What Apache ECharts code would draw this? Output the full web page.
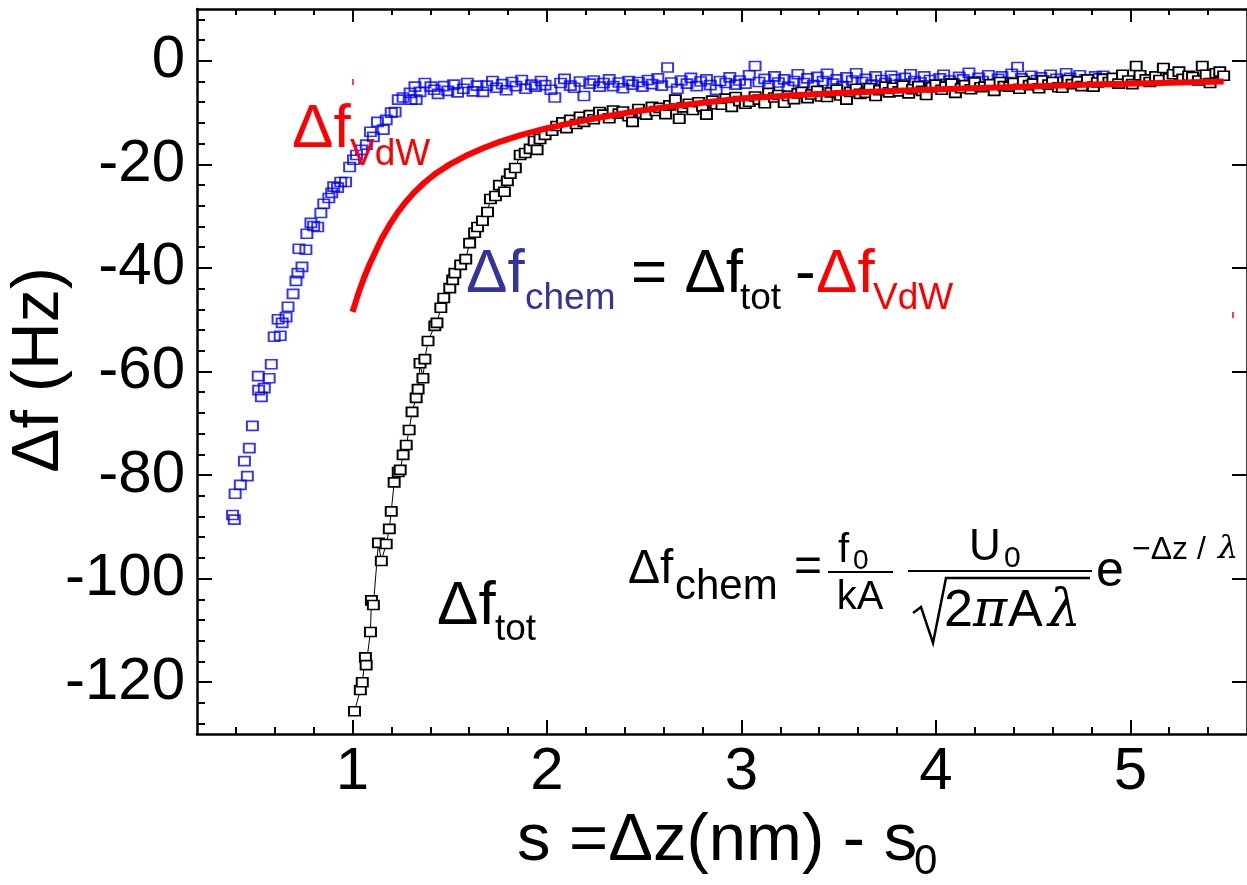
<!DOCTYPE html>
<html>
<head>
<meta charset="utf-8">
<script src="https://cdn.jsdelivr.net/npm/echarts@6.0.0/dist/echarts.min.js"></script>
<style>
  html, body { margin: 0; padding: 0; background: #fff; }
  #chart { width: 1247px; height: 885px; }
</style>
</head>
<body>
<div id="chart"></div>
<script>
// Δf_chem : chemical part of the frequency shift (blue squares)
const chemData = [
  [0.383,-87.7],[0.392,-88.6],[0.396,-83.6],[0.423,-81.9],[0.444,-77.3],[0.459,-80.2],[0.469,-74.8],
  [0.485,-70.5],[0.515,-60.9],[0.517,-63.6],[0.531,-64.9],[0.546,-63.2],[0.571,-61.3],[0.582,-58.6],
  [0.597,-53.3],[0.617,-49.9],[0.628,-53.1],[0.638,-50.6],[0.658,-49.5],[0.668,-47.5],[0.694,-45.0],
  [0.709,-42.5],[0.719,-41.0],[0.724,-36.3],[0.74,-39.8],[0.76,-36.5],[0.765,-33.4],[0.786,-31.3],
  [0.8,-31.9],[0.821,-32.1],[0.837,-29.4],[0.852,-27.6],[0.878,-26.5],[0.893,-25.5],[0.903,-24.3],
  [0.923,-24.5],[0.939,-23.4],[0.964,-23.4],[0.985,-20.5],[1.005,-19.1],[1.02,-18.2],[1.046,-17.2],
  [1.071,-16.2],[1.092,-13.7],[1.107,-14.7],[1.128,-11.8],[1.158,-13.3],[1.173,-11.4],[1.199,-10.0],
  [1.219,-9.9],[1.235,-7.5],[1.26,-7.1],[1.296,-6.2],[1.301,-7.5],[1.321,-5.0],[1.327,-7.5],
  [1.347,-6.0],[1.372,-4.3],[1.403,-5.0],
  [1.42,-5.6],[1.44,-6.4],[1.47,-4.9],[1.49,-5.8],[1.52,-4.6],[1.54,-6.1],[1.57,-5.4],[1.59,-4.3],
  [1.62,-5.9],[1.64,-4.8],[1.67,-6.0],[1.69,-4.8],[1.72,-3.9],[1.74,-5.2],[1.77,-4.5],[1.79,-5.7],
  [1.82,-4.1],[1.84,-4.9],[1.87,-3.7],[1.89,-5.4],[1.92,-4.6],[1.94,-5.0],[1.97,-3.9],[1.99,-4.7],
  [2.02,-5.6],[2.04,-7.1],[2.07,-4.3],[2.09,-3.5],[2.12,-4.8],[2.14,-5.2],[2.17,-4.0],[2.19,-6.8],
  [2.22,-4.4],[2.24,-3.8],[2.27,-5.0],[2.29,-4.3],[2.32,-3.6],[2.34,-4.9],[2.37,-4.2],[2.39,-5.3],
  [2.42,-3.9],[2.44,-4.6],[2.47,-4.1],[2.49,-5.0],[2.52,-3.7],[2.54,-4.5],[2.57,-3.4],[2.59,-4.8],
  [2.62,-1.3],[2.64,-4.2],[2.67,-5.4],[2.69,-3.8],[2.72,-4.4],[2.74,-3.3],[2.77,-4.9],[2.79,-4.0],
  [2.82,-3.6],[2.84,-4.7],[2.87,-5.6],[2.89,-3.9],[2.92,-4.3],[2.94,-3.2],[2.97,-4.6],[2.99,-3.8],
  [3.02,-4.4],[3.04,-2.8],[3.07,-1.0],[3.09,-4.1],[3.12,-3.5],[3.14,-4.8],[3.17,-3.0],[3.19,-4.2],
  [3.22,-3.6],[3.24,-5.0],[3.27,-3.9],[3.29,-2.6],[3.32,-4.3],[3.34,-3.4],[3.37,-4.7],[3.39,-3.1],
  [3.42,-3.9],[3.44,-2.5],[3.47,-4.4],[3.49,-3.6],[3.52,-4.9],[3.54,-3.2],[3.57,-3.8],[3.59,-2.4],
  [3.62,-4.1],[3.64,-3.5],[3.67,-4.6],[3.69,-3.0],[3.72,-3.7],[3.74,-4.3],[3.77,-2.9],[3.79,-3.6],
  [3.82,-4.5],[3.84,-3.3],[3.87,-2.6],[3.89,-3.9],[3.92,-4.2],[3.94,-3.0],[3.97,-3.7],[3.99,-4.9],
  [4.02,-3.4],[4.04,-2.7],[4.07,-3.8],[4.09,-4.4],[4.12,-3.1],[4.14,-3.6],[4.17,-2.3],[4.19,-4.0],
  [4.22,-3.3],[4.24,-3.9],[4.27,-2.8],[4.29,-4.6],[4.32,-3.5],[4.34,-3.0],[4.37,-4.1],[4.39,-2.5],
  [4.42,-1.2],[4.44,-3.4],[4.47,-4.3],[4.49,-2.9],[4.52,-3.7],[4.54,-3.2],[4.57,-4.2],[4.59,-2.7],
  [4.62,-3.5],[4.64,-4.0],[4.67,-2.4],[4.69,-3.3],[4.72,-3.9],[4.74,-2.8],[4.77,-3.6],[4.79,-4.3],
  [4.82,-3.0],[4.84,-3.4],[4.86,-2.9]
];

// Δf_tot : measured total frequency shift (black squares joined by a thin line)
const totData = [
  [1.01,-125.6],[1.04,-121.5],[1.05,-120.0],[1.066,-115.2],[1.07,-116.7],[1.092,-110.3],[1.097,-104.2],
  [1.107,-105.1],[1.133,-93.1],[1.148,-96.6],[1.173,-93.3],[1.189,-90.4],[1.199,-87.0],[1.214,-81.4],
  [1.235,-79.4],[1.245,-79.0],[1.26,-76.1],[1.276,-74.2],[1.291,-71.3],[1.306,-67.8],[1.327,-65.1],
  [1.337,-63.4],[1.347,-58.4],[1.362,-61.3],[1.372,-57.6],[1.388,-54.1],[1.423,-51.2],[1.434,-50.6],
  [1.454,-47.7],[1.469,-45.8],[1.5,-43.9],[1.515,-42.3],[1.526,-41.0],[1.556,-39.4],[1.582,-38.3],
  [1.602,-35.2],[1.628,-33.2],[1.643,-32.1],[1.668,-30.9],[1.694,-29.2],[1.709,-26.7],[1.735,-26.1],
  [1.755,-24.0],[1.781,-25.3],[1.796,-23.2],[1.811,-21.8],[1.837,-20.7],[1.862,-18.2],[1.888,-17.8],
  [1.913,-17.0],[1.934,-15.5],[1.949,-17.2],[1.964,-15.1],[1.99,-14.3],[2.026,-13.5],
  [2.05,-12.6],[2.08,-11.9],[2.1,-13.0],[2.12,-11.4],[2.15,-12.2],[2.17,-10.8],[2.19,-11.8],[2.22,-10.5],
  [2.24,-11.3],[2.27,-9.9],[2.29,-10.4],[2.32,-11.1],[2.34,-9.6],[2.37,-10.2],[2.39,-9.8],[2.42,-10.7],
  [2.44,-11.8],[2.47,-9.3],[2.49,-10.1],[2.51,-10.4],[2.54,-8.9],[2.56,-9.7],[2.58,-9.1],[2.61,-10.3],
  [2.63,-8.6],[2.66,-7.5],[2.68,-11.2],[2.7,-9.0],[2.73,-8.3],[2.75,-9.5],[2.78,-8.0],[2.8,-8.8],
  [2.82,-10.4],[2.85,-7.7],[2.87,-8.4],[2.9,-8.5],[2.92,-7.3],[2.95,-8.9],[2.97,-7.0],[2.99,-7.8],
  [3.02,-8.3],[3.04,-7.9],[3.07,-6.9],[3.09,-7.5],[3.12,-8.2],[3.14,-6.2],[3.17,-7.1],[3.19,-6.6],
  [3.22,-8.1],[3.24,-6.8],[3.27,-7.4],[3.29,-6.3],[3.31,-6.0],[3.34,-7.2],[3.36,-6.5],[3.39,-5.8],
  [3.41,-6.9],[3.44,-7.0],[3.46,-6.1],[3.49,-5.6],[3.51,-6.7],[3.54,-7.5],[3.56,-6.0],[3.59,-5.4],
  [3.61,-6.4],[3.64,-6.2],[3.66,-5.3],[3.69,-6.8],[3.71,-5.7],[3.74,-5.0],[3.76,-6.1],[3.78,-5.2],
  [3.81,-5.9],[3.83,-4.8],[3.86,-6.3],[3.88,-5.5],[3.91,-4.9],[3.93,-5.8],[3.95,-6.6],[3.98,-5.1],
  [4.0,-4.6],[4.03,-5.6],[4.05,-5.0],[4.08,-4.4],[4.1,-6.2],[4.13,-5.3],[4.15,-4.7],[4.18,-5.5],
  [4.2,-4.2],[4.23,-5.1],[4.25,-5.0],[4.28,-4.5],[4.3,-5.8],[4.33,-4.1],[4.35,-4.9],[4.38,-5.0],
  [4.4,-4.3],[4.43,-5.4],[4.45,-3.9],[4.48,-4.7],[4.5,-4.4],[4.53,-5.3],[4.55,-3.8],[4.58,-4.6],
  [4.6,-4.1],[4.63,-5.1],[4.65,-5.2],[4.68,-3.7],[4.7,-4.5],[4.73,-4.0],[4.75,-4.9],[4.78,-3.6],
  [4.81,-5.0],[4.83,-4.2],[4.86,-3.5],[4.89,-4.1],[4.91,-3.3],[4.94,-4.4],[4.96,-2.7],[4.99,-3.8],
  [5.01,-4.5],[5.03,-1.0],[5.05,-2.8],[5.08,-3.6],[5.1,-4.1],[5.13,-3.0],[5.15,-3.7],[5.17,-1.4],
  [5.2,-3.4],[5.22,-2.6],[5.25,-2.1],[5.27,-3.5],[5.3,-2.9],[5.32,-3.1],[5.35,-3.8],[5.37,-1.0],
  [5.39,-2.7],[5.41,-4.3],[5.44,-2.4],[5.46,-2.1],[5.48,-2.9]
];

// Δf_VdW : van der Waals background fit (thick red curve)
const vdwFit = [
  [1.00,-48.5],[1.03,-44.9],[1.06,-41.8],[1.09,-39.1],[1.12,-36.7],[1.15,-34.3],[1.19,-31.7],
  [1.23,-29.4],[1.27,-27.4],[1.32,-25.3],[1.37,-23.5],[1.43,-21.7],[1.50,-20.0],[1.58,-18.4],
  [1.67,-16.9],[1.76,-15.6],[1.86,-14.4],[1.97,-13.3],[2.10,-12.2],[2.25,-11.1],[2.42,-10.0],
  [2.60,-9.0],[2.80,-8.1],[3.00,-7.3],[3.25,-6.7],[3.50,-6.2],[3.80,-5.8],[4.10,-5.4],
  [4.45,-5.0],[4.80,-4.6],[5.15,-4.3],[5.48,-4.0]
];

// Axis ranges and tick positions
const xRange = [0.2, 5.6];
const yRange = [-130, 10];
const xMajorTicks = [1, 2, 3, 4, 5];
const xMinorTicks = [0.4, 0.6, 0.8, 1.2, 1.4, 1.6, 1.8, 2.2, 2.4, 2.6, 2.8, 3.2, 3.4, 3.6, 3.8,
                     4.2, 4.4, 4.6, 4.8, 5.2, 5.4];
const yMajorTicks = [-120, -100, -80, -60, -40, -20, 0];
const yMinorTicks = [-128, -124, -116, -112, -108, -104, -96, -92, -88, -84, -76, -72, -68, -64,
                     -56, -52, -48, -44, -36, -32, -28, -24, -16, -12, -8, -4, 4, 8];

const SANS = "'Liberation Sans', Arial, Helvetica, sans-serif";
const SERIF = "'DejaVu Serif', 'Liberation Serif', serif";
const RED = '#ff0000';
const CHEM_BLUE = '#333399';

function txt(x, y, text, size, color, extra, rotation) {
  return {
    type: 'text', x: x, y: y, z: 100, rotation: rotation || 0,
    style: Object.assign({
      text: text, fill: color, fontSize: size, fontFamily: SANS,
      align: 'left', verticalAlign: 'middle',
      textAlign: 'left', textVerticalAlign: 'middle'
    }, extra || {})
  };
}
function seg(x1, y1, x2, y2, color, w) {
  return { type: 'line', z: 100, shape: { x1: x1, y1: y1, x2: x2, y2: y2 },
           style: { stroke: color, lineWidth: w } };
}

const AXIS_COLOR = '#000';
function xAxisDef(position, ticks, len, showLine, showLabel) {
  return {
    type: 'value', position: position, min: xRange[0], max: xRange[1],
    gridIndex: 0,
    axisLine: { show: showLine, onZero: false, lineStyle: { color: AXIS_COLOR, width: 2.5 } },
    axisTick: { show: true, inside: true, length: len, customValues: ticks,
                lineStyle: { color: AXIS_COLOR, width: 2 } },
    axisLabel: showLabel ? { show: true, customValues: xMajorTicks, fontSize: 60, fontFamily: SANS,
                             color: '#000', margin: 8 } : { show: false },
    splitLine: { show: false }
  };
}
function yAxisDef(position, ticks, len, showLine, showLabel) {
  return {
    type: 'value', position: position, min: yRange[0], max: yRange[1],
    gridIndex: 0,
    axisLine: { show: showLine, onZero: false, lineStyle: { color: AXIS_COLOR, width: 2.5 } },
    axisTick: { show: true, inside: true, length: len, customValues: ticks,
                lineStyle: { color: AXIS_COLOR, width: 2 } },
    axisLabel: showLabel ? { show: true, customValues: yMajorTicks, fontSize: 60, fontFamily: SANS,
                             color: '#000', margin: 12 } : { show: false },
    splitLine: { show: false }
  };
}

const chart = echarts.init(document.getElementById('chart'), null, { renderer: 'canvas' });

const option = {
  animation: false,
  backgroundColor: '#fff',
  grid: { left: 197, top: 9, width: 1058, height: 725, containLabel: false },
  xAxis: [
    xAxisDef('bottom', xMajorTicks, 14, true, true),
    xAxisDef('bottom', xMinorTicks, 7, false, false),
    xAxisDef('top', xMajorTicks, 13, true, false),
    xAxisDef('top', xMinorTicks, 6, false, false)
  ],
  yAxis: [
    yAxisDef('left', yMajorTicks, 15, true, true),
    yAxisDef('left', yMinorTicks, 8, false, false),
    yAxisDef('right', yMajorTicks, 15, true, false)
  ],
  series: [
    {
      name: 'chem', type: 'scatter', data: chemData, z: 2,
      symbol: 'rect', symbolSize: [11, 9],
      itemStyle: { color: 'rgba(255,255,255,0)', borderColor: '#0000ff', borderWidth: 1.8 },
      emphasis: { disabled: true }
    },
    {
      name: 'tot', type: 'line', data: totData, z: 3,
      symbol: 'rect', symbolSize: [11, 9], showSymbol: true, showAllSymbol: true,
      lineStyle: { color: '#000', width: 1 },
      itemStyle: { color: '#fff', borderColor: '#000', borderWidth: 1.8 },
      emphasis: { disabled: true }
    },
    {
      name: 'vdw', type: 'line', data: vdwFit, z: 4,
      smooth: false, showSymbol: false, symbol: 'none',
      lineStyle: { color: RED, width: 6, join: 'round', cap: 'butt' },
      emphasis: { disabled: true }
    }
  ],
  graphic: [
    // axis titles
    txt(40, 370, 'Δf (Hz)', 66, '#000', { align: 'center', textAlign: 'center' }, Math.PI / 2),
    txt(517, 842, 's =Δz(nm) - s', 67, '#000'),
    txt(914, 862, '0', 42, '#000'),

    // Δf_VdW label
    txt(292, 130, 'Δf', 62, RED),
    txt(350, 155, 'VdW', 37, RED),

    // Δf_chem = Δf_tot - Δf_VdW
    txt(466, 275, 'Δf', 62, CHEM_BLUE),
    txt(525, 299, 'chem', 37, CHEM_BLUE),
    txt(631, 275, '= Δf', 62, '#000'),
    txt(740, 299, 'tot', 37, '#000'),
    txt(795, 275, '-', 62, '#000'),
    txt(816, 275, 'Δf', 62, RED),
    txt(873, 299, 'VdW', 37, RED),

    // Δf_tot label
    txt(437, 607, 'Δf', 62, '#000'),
    txt(495, 630, 'tot', 37, '#000'),

    // Δf_chem = f0/kA · U0/√(2πAλ) · e^(−Δz/λ)
    txt(628, 570, 'Δf', 48, '#000'),
    txt(675, 587, 'chem', 42, '#000'),
    txt(794, 568, '=', 48, '#000'),
    txt(838, 551, 'f', 40, '#000'),
    txt(853, 561, '0', 28, '#000'),
    seg(828, 572, 893, 572, '#000', 2),
    txt(860, 598, 'kA', 40, '#000', { align: 'center', textAlign: 'center' }),
    seg(908, 571, 1092, 571, '#000', 2),
    txt(969, 548, 'U', 44, '#000'),
    txt(1004, 559, '0', 30, '#000'),
    { type: 'polyline', z: 100, shape: { points: [[913, 613], [921, 607], [933, 643], [946, 578], [1090, 578]] },
      style: { stroke: '#000', fill: null, lineWidth: 2.5 } },
    txt(944, 612, '2', 52, '#000'),
    txt(973, 612, 'π', 52, '#000', { fontFamily: SERIF, fontStyle: 'italic' }),
    txt(1008, 612, 'A', 52, '#000'),
    txt(1048, 612, 'λ', 52, '#000', { fontFamily: SERIF, fontStyle: 'italic' }),
    txt(1096, 572, 'e', 50, '#000'),
    txt(1132, 550, '−Δz /', 32, '#000'),
    txt(1218, 550, 'λ', 32, '#000', { fontFamily: SERIF, fontStyle: 'italic' }),

    // small red marker strokes
    seg(353, 79, 353, 85, RED, 1.5),
    seg(1233, 312, 1233, 318, RED, 1.5)
  ]
};

chart.setOption(option);
</script>
</body>
</html>
